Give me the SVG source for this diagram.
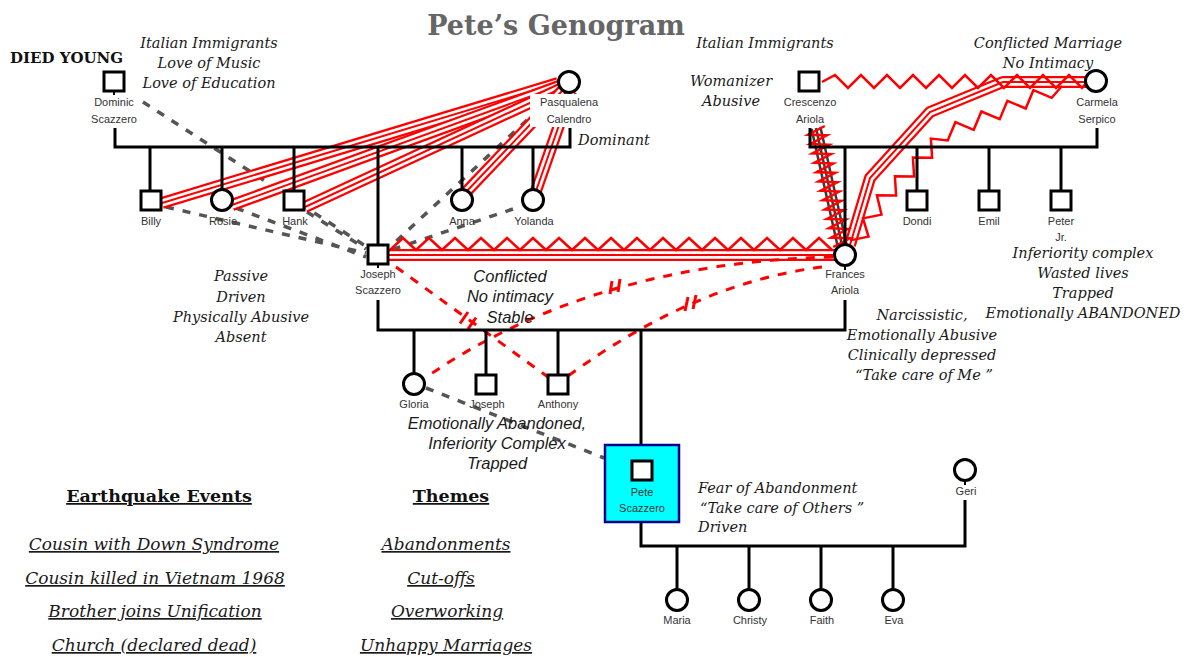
<svg xmlns="http://www.w3.org/2000/svg" width="1187" height="657" viewBox="0 0 1187 657">
<style>
.blk{stroke:#000;stroke-width:3;fill:none}
.sym{fill:#fff;stroke:#000;stroke-width:3}
.tick{stroke:#000;stroke-width:2}
.lbl{font-family:"Liberation Sans",Arial,sans-serif;font-size:11px;fill:#333;text-anchor:middle}
.ann{font-family:"DejaVu Serif",serif;font-style:italic;font-size:14.5px;fill:#1a1a1a;text-anchor:middle}
.annl{font-family:"DejaVu Serif",serif;font-style:italic;font-size:14.5px;fill:#1a1a1a}
.sit{font-family:"Liberation Sans",Arial,sans-serif;font-style:italic;font-size:16.5px;fill:#1a1a1a;text-anchor:middle}
.gd{stroke:#555;stroke-width:3.5;stroke-dasharray:8 9;fill:none}
.rd{stroke:#f00;stroke-width:3;stroke-dasharray:9 9;fill:none}
.cut{stroke:#f00;stroke-width:3}
.zz{stroke:#f00;stroke-width:2.5;fill:none;stroke-linejoin:miter}
.t1{stroke:#f00;stroke-width:12;fill:none}
.t2{stroke:#fff;stroke-width:7.5;fill:none}
.t3{stroke:#f00;stroke-width:2;fill:none}
.dk{stroke:#3a3a3a;stroke-width:2.5}
.hd{font-family:"DejaVu Serif",serif;font-weight:bold;font-size:17.5px;fill:#111;text-anchor:middle;text-decoration:underline}
.li{font-family:"DejaVu Serif",serif;font-style:italic;font-size:17px;fill:#1a1a1a;text-anchor:middle;text-decoration:underline}
</style>
<defs>
<path id="b1" d="M162 203 L558 83"/>
<path id="b2" d="M232 205 L559 86"/>
<path id="b3" d="M305 207 L560 89"/>
<path id="b4" d="M466 192 L563 90"/>
<path id="b5" d="M536 191 L571 91"/>
<path id="b6" d="M1087 82 L1003 82 L930 112 L870 178 L850 245"/>
<path id="b7" d="M389 255 L835 255"/>
</defs>
<rect width="1187" height="657" fill="#fff"/>

<g id="connectors">
 <g id="dashed-distant">
  <path class="gd" d="M143 102 L367 247"/>
  <path class="gd" d="M166 207 L366 253"/>
  <path class="gd" d="M236 208 L366 257"/>
  <path class="gd" d="M307 212 L366 249"/>
  <path class="gd" d="M527 120 L392 245"/>
  <path class="gd" d="M513 209 L391 250"/>
  <path class="gd" d="M426 388 L604 458"/>
 </g>
 <g id="fused">
  <use href="#b1" class="t1"/><use href="#b1" class="t2"/><use href="#b1" class="t3"/>
  <use href="#b2" class="t1"/><use href="#b2" class="t2"/><use href="#b2" class="t3"/>
  <use href="#b3" class="t1"/><use href="#b3" class="t2"/><use href="#b3" class="t3"/>
  <use href="#b4" class="t1"/><use href="#b4" class="t2"/><use href="#b4" class="t3"/>
  <use href="#b5" class="t1"/><use href="#b5" class="t2"/><use href="#b5" class="t3"/>
  <use href="#b6" class="t1" stroke-linejoin="round"/><use href="#b6" class="t2" stroke-linejoin="round"/><use href="#b6" class="t3"/>
  <use href="#b7" class="t1"/><use href="#b7" class="t2"/><use href="#b7" class="t3"/>
 </g>
 <g id="close-dark">
  <line class="dk" x1="811.6" y1="129" x2="837.6" y2="246"/>
  <line class="dk" x1="816" y1="128" x2="842" y2="245"/>
  <line class="dk" x1="820.4" y1="127" x2="846.4" y2="244"/>
 </g>
 <g id="hostile">
  <polyline class="zz" points="390,250 403,238 416,250 429,238 442,250 455,238 468,250 481,238 494,250 507,238 520,250 533,238 546,250 559,238 572,250 585,238 598,250 611,238 624,250 637,238 650,250 663,238 676,250 689,238 702,250 715,238 728,250 741,238 754,250 767,238 780,250 793,238 806,250 819,238 832,250"/>
  <polyline class="zz" points="822,82 835,75 848,88 861,75 874,88 887,75 900,88 913,75 926,88 939,75 952,88 965,75 978,88 991,75 1004,88 1017,75 1030,88 1043,75 1056,88 1069,75 1082,88 1087,82"/>
  <polyline class="zz" points="824.8,126 808.2,134.6 826.9,135.4 810.3,144 829,144.8 812.4,153.4 831,154.1 814.5,162.7 833.1,163.5 816.6,172.1 835.2,172.9 818.6,181.4 837.3,182.2 820.7,190.8 839.4,191.6 822.8,200.2 841.4,200.9 824.9,209.5 843.5,210.3 827,218.9 845.6,219.6 829,228.2 847.7,229 831.1,237.6 849.8,238.4 833.2,247"/>
  <polyline class="zz" points="1062,86 1051.7,97.8 1033.4,90.2 1025.7,108.5 1007.4,100.8 999.7,119.2 981.4,111.5 973.7,129.8 955.4,122.2 947.7,140.5 930.9,138.6 932.1,157.7 912.9,157.5 914.1,176.5 894.9,176.3 896.1,195.4 876.9,195.2 881.5,214.6 863,218.4 868.5,236.6 850,240.4"/>
 </g>
 <g id="cutoff">
  <path class="rd" d="M833 257 Q591 263 425 378"/>
  <path class="rd" d="M822 267 Q695 283 568 376"/>
  <path class="rd" d="M396 267 L548 377"/>
  <line class="cut" x1="612" y1="281" x2="610" y2="294"/>
  <line class="cut" x1="620" y1="279" x2="618" y2="292"/>
  <line class="cut" x1="688" y1="297" x2="685" y2="311"/>
  <line class="cut" x1="696" y1="295" x2="693" y2="309"/>
  <line class="cut" x1="468" y1="312" x2="460" y2="323.5"/>
  <line class="cut" x1="476" y1="317.6" x2="468" y2="329"/>
 </g>
 <g id="family-lines">
  <polyline class="blk" points="115,128 115,147 570,147 570,128"/>
  <line class="blk" x1="150" y1="147" x2="150" y2="191"/>
  <line class="blk" x1="222" y1="147" x2="222" y2="189"/>
  <line class="blk" x1="294" y1="147" x2="294" y2="191"/>
  <line class="blk" x1="378" y1="147" x2="378" y2="245"/>
  <line class="blk" x1="462" y1="147" x2="462" y2="189"/>
  <line class="blk" x1="533" y1="147" x2="533" y2="189"/>
  <polyline class="blk" points="810,128 810,147 1097,147 1097,128"/>
  <line class="blk" x1="845" y1="147" x2="845" y2="244"/>
  <line class="blk" x1="917" y1="147" x2="917" y2="191"/>
  <line class="blk" x1="989" y1="147" x2="989" y2="191"/>
  <line class="blk" x1="1061" y1="147" x2="1061" y2="191"/>
  <polyline class="blk" points="378,300 378,330 845,330 845,300"/>
  <line class="blk" x1="414" y1="330" x2="414" y2="373"/>
  <line class="blk" x1="486" y1="330" x2="486" y2="374"/>
  <line class="blk" x1="558" y1="330" x2="558" y2="374"/>
  <line class="blk" x1="641" y1="330" x2="641" y2="445"/>
  <polyline class="blk" points="641,522 641,546 965,546 965,500"/>
  <line class="blk" x1="677" y1="546" x2="677" y2="590"/>
  <line class="blk" x1="749" y1="546" x2="749" y2="590"/>
  <line class="blk" x1="821" y1="546" x2="821" y2="590"/>
  <line class="blk" x1="893" y1="546" x2="893" y2="590"/>
 </g>
</g>

<g id="title"><text x="556" y="35" font-family="DejaVu Serif,serif" font-weight="bold" font-size="27" fill="#666" text-anchor="middle">Pete’s Genogram</text></g>

<g id="dominic"><rect class="sym" x="104" y="72" width="20" height="19"/><line class="tick" x1="114" y1="91" x2="114" y2="95"/><text class="lbl" x="114" y="106">Dominic</text><text class="lbl" x="114" y="123">Scazzero</text></g>
<g id="pasqualena"><rect x="530" y="94" width="78" height="33" fill="#fff"/><circle class="sym" cx="569" cy="82" r="10.5"/><text class="lbl" x="569" y="106">Pasqualena</text><text class="lbl" x="569" y="123">Calendro</text></g>
<g id="billy"><rect class="sym" x="141" y="191" width="20" height="19"/><text class="lbl" x="151" y="225">Billy</text></g>
<g id="rosie"><circle class="sym" cx="222" cy="200" r="10.5"/><text class="lbl" x="223" y="225">Rosie</text></g>
<g id="hank"><rect class="sym" x="284" y="191" width="20" height="19"/><text class="lbl" x="295" y="225">Hank</text></g>
<g id="anna"><circle class="sym" cx="462" cy="200" r="10.5"/><text class="lbl" x="462" y="225">Anna</text></g>
<g id="yolanda"><circle class="sym" cx="533" cy="200" r="10.5"/><text class="lbl" x="534" y="225">Yolanda</text></g>
<g id="joseph-sr"><rect class="sym" x="368" y="245" width="20" height="19"/><line class="tick" x1="378" y1="264" x2="378" y2="268"/><text class="lbl" x="378" y="278">Joseph</text><text class="lbl" x="378" y="294">Scazzero</text></g>

<g id="crescenzo"><rect class="sym" x="799" y="72" width="20" height="19"/><text class="lbl" x="810" y="106">Crescenzo</text><text class="lbl" x="810" y="123">Ariola</text></g>
<g id="carmela"><circle class="sym" cx="1096" cy="81" r="10.5"/><text class="lbl" x="1097" y="106">Carmela</text><text class="lbl" x="1097" y="123">Serpico</text></g>
<g id="frances"><circle class="sym" cx="845" cy="255" r="10.5"/><line class="tick" x1="845" y1="266" x2="845" y2="270"/><text class="lbl" x="845" y="278">Frances</text><text class="lbl" x="845" y="294">Ariola</text></g>
<g id="dondi"><rect class="sym" x="907" y="191" width="20" height="19"/><text class="lbl" x="917" y="225">Dondi</text></g>
<g id="emil"><rect class="sym" x="979" y="191" width="20" height="19"/><text class="lbl" x="989" y="225">Emil</text></g>
<g id="peter"><rect class="sym" x="1051" y="191" width="20" height="19"/><text class="lbl" x="1061" y="225">Peter</text><text class="lbl" x="1061" y="241">Jr.</text></g>

<g id="gloria"><circle class="sym" cx="414" cy="384" r="10.5"/><text class="lbl" x="414" y="408">Gloria</text></g>
<g id="joseph-jr"><rect class="sym" x="476" y="375" width="20" height="19"/><text class="lbl" x="487" y="408">Joseph</text></g>
<g id="anthony"><rect class="sym" x="548" y="375" width="20" height="19"/><text class="lbl" x="558" y="408">Anthony</text></g>
<g id="pete"><rect x="605" y="445" width="74" height="77" fill="#00ffff" stroke="#00008b" stroke-width="2.5"/><rect class="sym" x="632" y="461" width="20" height="19"/><text class="lbl" x="642" y="496" fill="#000">Pete</text><text class="lbl" x="642" y="512">Scazzero</text></g>
<g id="geri"><circle class="sym" cx="965" cy="470" r="10.5"/><line class="tick" x1="965" y1="481" x2="965" y2="485"/><text class="lbl" x="966" y="495">Geri</text></g>
<g id="maria"><circle class="sym" cx="677" cy="600" r="10.5"/><text class="lbl" x="677" y="624">Maria</text></g>
<g id="christy"><circle class="sym" cx="749" cy="600" r="10.5"/><text class="lbl" x="750" y="624">Christy</text></g>
<g id="faith"><circle class="sym" cx="821" cy="600" r="10.5"/><text class="lbl" x="822" y="624">Faith</text></g>
<g id="eva"><circle class="sym" cx="893" cy="600" r="10.5"/><text class="lbl" x="894" y="624">Eva</text></g>

<g id="annotations">
 <text x="10" y="63" font-family="DejaVu Serif,serif" font-weight="bold" font-size="15" fill="#111">DIED YOUNG</text>
 <text class="ann" x="209" y="48">Italian Immigrants</text>
 <text class="ann" x="209" y="68">Love of Music</text>
 <text class="ann" x="209" y="88">Love of Education</text>
 <text class="annl" x="578" y="145">Dominant</text>
 <text class="ann" x="765" y="48">Italian Immigrants</text>
 <text class="ann" x="731" y="86">Womanizer</text>
 <text class="ann" x="731" y="106">Abusive</text>
 <text class="ann" x="1048" y="48">Conflicted Marriage</text>
 <text class="ann" x="1048" y="68">No Intimacy</text>
 <text class="ann" x="241" y="281">Passive</text>
 <text class="ann" x="241" y="302">Driven</text>
 <text class="ann" x="241" y="322">Physically Abusive</text>
 <text class="ann" x="241" y="342">Absent</text>
 <text class="sit" x="510" y="282">Conflicted</text>
 <text class="sit" x="510" y="302">No intimacy</text>
 <text class="sit" x="510" y="323">Stable</text>
 <text class="sit" x="497" y="429">Emotionally Abandoned,</text>
 <text class="sit" x="497" y="449">Inferiority Complex</text>
 <text class="sit" x="497" y="469">Trapped</text>
 <text class="ann" x="922" y="320">Narcissistic,</text>
 <text class="ann" x="922" y="340">Emotionally Abusive</text>
 <text class="ann" x="922" y="360">Clinically depressed</text>
 <text class="ann" x="924" y="380">“Take care of Me ”</text>
 <text class="ann" x="1083" y="258">Inferiority complex</text>
 <text class="ann" x="1083" y="278">Wasted lives</text>
 <text class="ann" x="1083" y="298">Trapped</text>
 <text class="ann" x="1083" y="318">Emotionally ABANDONED</text>
 <text class="annl" x="698" y="493">Fear of Abandonment</text>
 <text class="annl" x="700" y="513">“Take care of Others ”</text>
 <text class="annl" x="698" y="532">Driven</text>
</g>
<g id="legend">
 <text class="hd" x="159" y="502">Earthquake Events</text>
 <text class="hd" x="451" y="502">Themes</text>
 <text class="li" x="154" y="550">Cousin with Down Syndrome</text>
 <text class="li" x="155" y="584">Cousin killed in Vietnam 1968</text>
 <text class="li" x="155" y="617">Brother joins Unification</text>
 <text class="li" x="154" y="651">Church (declared dead)</text>
 <text class="li" x="446" y="550">Abandonments</text>
 <text class="li" x="441" y="584">Cut-offs</text>
 <text class="li" x="447" y="617">Overworking</text>
 <text class="li" x="446" y="651">Unhappy Marriages</text>
</g>
</svg>
